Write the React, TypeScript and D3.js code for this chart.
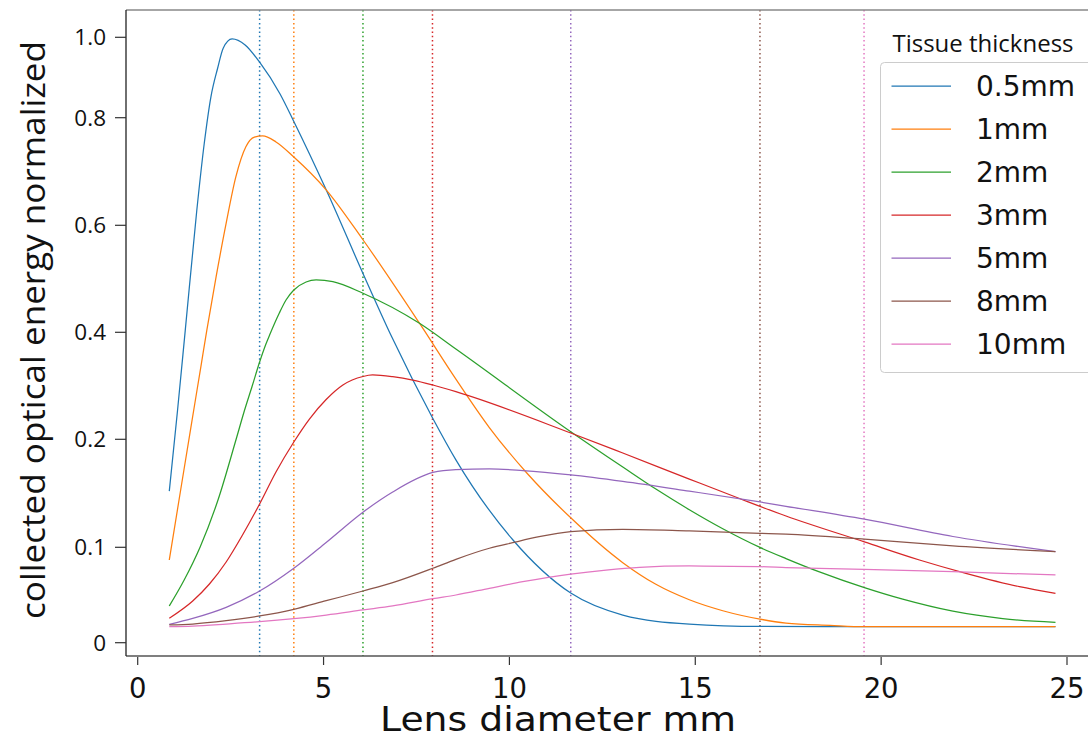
import React from "react";
import * as d3 from "d3";

// ---- data ----
const seriesLabels = ["0.5mm", "1mm", "2mm", "3mm", "5mm", "8mm", "10mm"];
const seriesColors = ["#1f77b4", "#ff7f0e", "#2ca02c", "#d62728", "#9467bd", "#8c564b", "#e377c2"];

const x05 = [0.85, 1.07, 1.28, 1.59, 1.79, 1.97, 2.15, 2.30, 2.54, 2.89, 3.28, 3.83, 4.20, 5.07, 6.06, 6.83, 7.94, 8.56, 10.09, 11.65, 13.05, 14.84, 16.74, 20.0, 24.69];
const y05 = [0.152, 0.253, 0.404, 0.628, 0.752, 0.852, 0.923, 0.973, 0.996, 0.981, 0.938, 0.859, 0.793, 0.666, 0.510, 0.392, 0.239, 0.181, 0.107, 0.052, 0.029, 0.0195, 0.0170, 0.0168, 0.0168];

const x1 = [0.85, 1.16, 1.43, 1.70, 1.86, 2.11, 2.38, 2.64, 2.91, 3.14, 3.36, 3.72, 4.20, 5.07, 6.06, 7.58, 8.56, 9.46, 10.45, 11.65, 13.05, 13.94, 14.84, 15.74, 16.74, 17.44, 18.63, 19.55, 24.69];
const y1 = [0.0867, 0.154, 0.222, 0.336, 0.404, 0.504, 0.604, 0.690, 0.746, 0.764, 0.766, 0.755, 0.727, 0.666, 0.573, 0.417, 0.3125, 0.222, 0.1695, 0.1273, 0.0839, 0.0612, 0.0450, 0.0335, 0.0247, 0.0206, 0.0182, 0.0168, 0.0168];

const x2 = [0.85, 1.25, 1.68, 2.16, 2.65, 2.86, 3.08, 3.28, 3.45, 3.56, 3.81, 3.99, 4.20, 4.53, 4.80, 5.25, 6.06, 7.58, 8.56, 11.65, 13.05, 13.94, 14.84, 15.74, 16.74, 17.44, 18.34, 19.55, 20.58, 21.93, 23.27, 24.69];
const y2 = [0.0385, 0.0657, 0.1003, 0.1438, 0.2006, 0.251, 0.2996, 0.3445, 0.3781, 0.3968, 0.4361, 0.4604, 0.479, 0.494, 0.4979, 0.4947, 0.4730, 0.4168, 0.3688, 0.2142, 0.1743, 0.1539, 0.1348, 0.1172, 0.0999, 0.0882, 0.0742, 0.0577, 0.0456, 0.0330, 0.0252, 0.0213];

const x3 = [0.85, 1.48, 1.93, 2.38, 2.82, 3.28, 3.72, 4.20, 4.62, 5.07, 5.52, 6.06, 6.32, 6.86, 7.40, 7.94, 8.56, 11.65, 13.05, 14.84, 16.19, 17.44, 19.55, 21.03, 22.28, 23.72, 24.69];
const y3 = [0.0256, 0.0437, 0.0615, 0.0846, 0.1114, 0.1401, 0.1697, 0.1975, 0.2379, 0.2744, 0.3015, 0.3174, 0.3202, 0.3170, 0.3108, 0.3015, 0.289, 0.2118, 0.1873, 0.1632, 0.1452, 0.129, 0.105, 0.0867, 0.0727, 0.0587, 0.0518];

const x5 = [0.85, 1.48, 2.38, 3.28, 4.20, 5.07, 6.06, 6.86, 7.94, 8.56, 9.46, 10.36, 11.65, 13.05, 14.84, 16.74, 17.44, 19.55, 21.93, 24.69];
const y5 = [0.0193, 0.0255, 0.0371, 0.0542, 0.0781, 0.1045, 0.1325, 0.1512, 0.1693, 0.1720, 0.1726, 0.1710, 0.167, 0.161, 0.152, 0.142, 0.138, 0.126, 0.110, 0.0954];

const x8 = [0.85, 1.48, 2.38, 3.28, 4.20, 5.07, 6.06, 6.86, 7.94, 8.56, 9.46, 10.09, 10.80, 11.65, 13.05, 14.84, 16.74, 17.44, 19.55, 21.93, 24.69];
const y8 = [0.0186, 0.0196, 0.0231, 0.0280, 0.0350, 0.0440, 0.0542, 0.0629, 0.0780, 0.0874, 0.0990, 0.1043, 0.1098, 0.1145, 0.1167, 0.1152, 0.1130, 0.1121, 0.1075, 0.1013, 0.0954];

const x10 = [0.85, 1.48, 2.38, 3.28, 4.20, 5.07, 6.06, 6.86, 7.94, 8.56, 9.46, 10.36, 11.65, 12.60, 13.50, 14.84, 16.74, 17.44, 19.55, 21.93, 24.69];
const y10 = [0.0168, 0.0175, 0.0196, 0.0220, 0.0252, 0.0290, 0.0343, 0.0385, 0.0461, 0.0500, 0.0570, 0.0639, 0.0720, 0.0762, 0.0790, 0.0804, 0.0797, 0.0788, 0.0769, 0.0744, 0.0710];

const seriesX = [x05, x1, x2, x3, x5, x8, x10];
const seriesY = [y05, y1, y2, y3, y5, y8, y10];

// optimum lens diameter markers (dotted verticals)
const optimumX = [3.28, 4.20, 6.06, 7.93, 11.65, 16.74, 19.54];

const xTicks = [0, 5, 10, 15, 20, 25];
const yTicks = [0, 0.1, 0.2, 0.4, 0.6, 0.8, 1.0];
const yTickLabels = ["0", "0.1", "0.2", "0.4", "0.6", "0.8", "1.0"];

// ---- layout ----
const W = 1088;
const H = 735;
const plotLeft = 126;
const plotTop = 10;
const plotBottom = 656;
const plotRight = 1100;
// pixel positions of the (unevenly spaced) y ticks
const yTickPx = [642.7, 547.3, 439.3, 332.3, 225.3, 117.7, 37.3];

export default function App() {
  const x = d3.scaleLinear().domain([0, 25]).range([137.7, 1067]);
  const y = d3.scaleLinear().domain(yTicks).range(yTickPx);

  const line = d3
    .line<[number, number]>()
    .x((d) => x(d[0]))
    .y((d) => y(d[1]))
    .curve(d3.curveMonotoneX);

  const legendX = 880.5;
  const legendY = 62.5;
  const legendRowY = (i: number) => 86 + i * 43;

  return (
    <svg
      width={W}
      height={H}
      style={{ position: "absolute", left: 0, top: 0, background: "#fff" }}
    >
      <rect x={0} y={0} width={W} height={H} fill="#fff" />
      <defs>
        <clipPath id="plotclip">
          <rect x={plotLeft} y={plotTop} width={plotRight - plotLeft} height={plotBottom - plotTop} />
        </clipPath>
      </defs>

      {/* dotted verticals */}
      <g clipPath="url(#plotclip)">
        {optimumX.map((v, i) => (
          <line
            key={"v" + i}
            x1={x(v)}
            x2={x(v)}
            y1={plotTop}
            y2={plotBottom}
            stroke={seriesColors[i]}
            strokeWidth={1.5}
            strokeDasharray="1.5 2.8"
          />
        ))}
        {seriesX.map((xs, i) => (
          <path
            key={"s" + i}
            d={line(xs.map((xv, j) => [xv, seriesY[i][j]] as [number, number])) || ""}
            fill="none"
            stroke={seriesColors[i]}
            strokeWidth={1.25}
          />
        ))}
      </g>

      {/* spines */}
      <line x1={plotLeft} x2={W} y1={plotTop} y2={plotTop} stroke="#888" strokeWidth={1.3} />
      <line x1={plotLeft} x2={W} y1={plotBottom} y2={plotBottom} stroke="#555" strokeWidth={1.3} />
      <line x1={plotLeft} x2={plotLeft} y1={plotTop} y2={plotBottom} stroke="#222" strokeWidth={1.3} />

      {/* y ticks */}
      {yTicks.map((t, i) => (
        <g key={"yt" + i}>
          <line x1={115} x2={plotLeft} y1={y(t)} y2={y(t)} stroke="#333" strokeWidth={1.2} />
          <text
            x={106}
            y={y(t) + 8}
            textAnchor="end"
            fontFamily="'Open Sans', sans-serif"
            fontSize={22.5}
            fill="#111"
          >
            {yTickLabels[i]}
          </text>
        </g>
      ))}

      {/* x ticks */}
      {xTicks.map((t, i) => (
        <g key={"xt" + i}>
          <line x1={x(t)} x2={x(t)} y1={plotBottom + 1} y2={plotBottom + 9} stroke="#333" strokeWidth={1.2} />
          <text
            x={x(t)}
            y={698}
            textAnchor="middle"
            fontFamily="'DejaVu Sans', sans-serif"
            fontSize={27.5}
            fill="#111"
          >
            {t}
          </text>
        </g>
      ))}

      {/* axis labels */}
      <text
        x={558}
        y={731}
        textAnchor="middle"
        fontFamily="'DejaVu Sans', sans-serif"
        fontSize={34}
        textLength={356}
        lengthAdjust="spacingAndGlyphs"
        fill="#111"
      >
        Lens diameter mm
      </text>
      <text
        transform={`translate(45,330) rotate(-90)`}
        textAnchor="middle"
        fontFamily="'Open Sans', sans-serif"
        fontSize={32}
        textLength={578}
        lengthAdjust="spacingAndGlyphs"
        fill="#111"
      >
        collected optical energy normalized
      </text>

      {/* legend */}
      <text
        x={983}
        y={52}
        textAnchor="middle"
        fontFamily="'Open Sans', sans-serif"
        fontSize={24}
        fill="#111"
      >
        Tissue thickness
      </text>
      <rect
        x={legendX}
        y={legendY}
        width={220}
        height={310}
        rx={4}
        ry={4}
        fill="#fff"
        fillOpacity={0.8}
        stroke="#cccccc"
        strokeWidth={1}
      />
      {seriesLabels.map((lab, i) => (
        <g key={"lg" + i}>
          <line
            x1={891.5}
            x2={951}
            y1={legendRowY(i)}
            y2={legendRowY(i)}
            stroke={seriesColors[i]}
            strokeWidth={1.25}
          />
          <text
            x={976}
            y={legendRowY(i) + 10}
            fontFamily="'DejaVu Sans', sans-serif"
            fontSize={28}
            fill="#111"
          >
            {lab}
          </text>
        </g>
      ))}
    </svg>
  );
}
